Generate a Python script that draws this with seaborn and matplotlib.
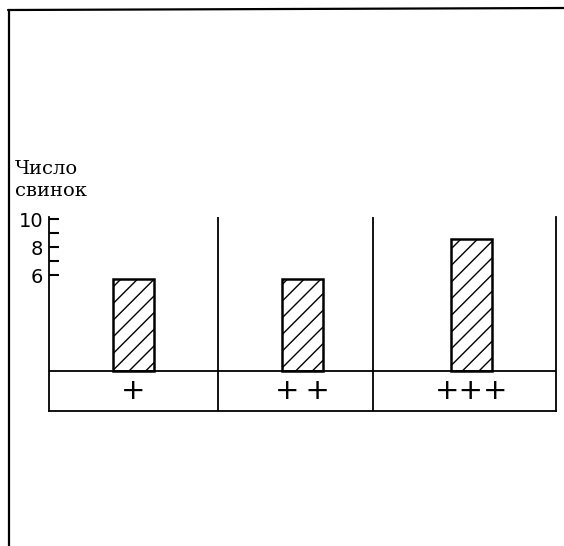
import numpy as np
import pandas as pd
import matplotlib.pyplot as plt
from matplotlib.lines import Line2D
import seaborn as sns

# data
groups = ["+", "+\u2009+", "+++"]
pigs = [5.7, 5.7, 8.6]
y_major = [6, 8, 10]
y_minor = [7, 9]

# the axis is broken: bars stand on the label row, not on zero
base = -0.86
row_bottom = -3.7
separators = [0.5, 1.42]

df = pd.DataFrame({"group": groups, "height": [p - base for p in pigs]})

sns.set_theme(style="white")
plt.rcParams["font.family"] = ["DejaVu Serif"]
plt.rcParams["hatch.linewidth"] = 1.0
plt.rcParams["hatch.color"] = "black"

fig = plt.figure(figsize=(5.64, 5.46), dpi=100)
ax = fig.add_axes([49 / 564, 1 - 411 / 546, 507 / 564, 194 / 546])

sns.barplot(data=df, x="group", y="height", bottom=base, width=0.24,
            color="white", saturation=1, edgecolor="black", linewidth=1.8,
            hatch="//", errorbar=None, ax=ax)

ax.set_xlim(-0.5, 2.5)
ax.set_ylim(row_bottom, 10.15)

# baseline of the bars and the column separators
ax.axhline(base, color="black", lw=1.3)
for xv in separators:
    ax.axvline(xv, color="black", lw=1.3)

# label row
for i, g in enumerate(groups):
    ax.text(i, (base + row_bottom) / 2, g, ha="center", va="center",
            fontsize=21, family="DejaVu Sans", color="black")

for side in ["left", "right", "bottom"]:
    ax.spines[side].set_visible(True)
    ax.spines[side].set_color("black")
    ax.spines[side].set_linewidth(1.3)
ax.spines["top"].set_visible(False)

ax.set_xticks([])
ax.set_yticks(y_major)
ax.set_yticks(y_minor, minor=True)
ax.set_yticklabels([str(v) for v in y_major], fontsize=14, family="DejaVu Sans")
ax.tick_params(axis="y", which="both", direction="in", length=7, width=1.5,
               left=True, color="black", labelcolor="black", pad=4)
ax.set_xlabel("")
ax.set_ylabel("")

fig.text(15 / 564, 1 - 160 / 546, "Число\nсвинок", ha="left", va="top",
         fontsize=14, linespacing=1.3, color="black")

# page frame of the scan
fig.add_artist(Line2D([9 / 564, 9 / 564], [0, 1 - 11 / 546],
                      transform=fig.transFigure, color="black", lw=1.6))
fig.add_artist(Line2D([8 / 564, 1], [1 - 10 / 546, 1 - 8 / 546],
                      transform=fig.transFigure, color="black", lw=1.6))

fig.savefig("out.png", dpi=100, facecolor="white")
